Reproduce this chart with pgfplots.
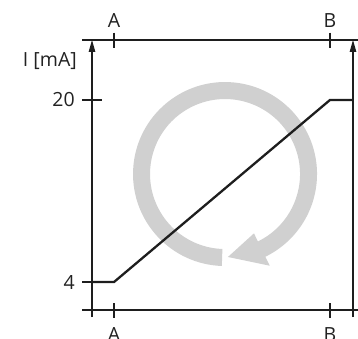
\documentclass[border=0pt]{standalone}
\usepackage{pgfplots}
\pgfplotsset{compat=1.18}
\usepackage{fontspec}
\setmainfont{Open Sans}
\usetikzlibrary{arrows.meta,calc}
\definecolor{ink}{HTML}{1E1E1E}
\definecolor{txt}{HTML}{222222}
\definecolor{ring}{HTML}{D0D0D0}
\begin{document}
\begin{tikzpicture}[font=\fontsize{19.5}{21}\selectfont]
\useasboundingbox (0,0) rectangle (358pt,338pt);
\begin{axis}[
    at={(92pt,28pt)}, anchor=south west,
    scale only axis, width=261pt, height=270pt,
    xmin=-0.1019, xmax=1.1065, ymin=1.54, ymax=25.27,
    axis line style={draw=none},
    xtick={0,1}, xticklabels={A,B}, xtick pos=both,
    ytick={4,20}, yticklabels={4,20}, ytick pos=left,
    tick align=center,
    xtick style={ink, line width=1.1pt, /pgfplots/major tick length=15pt},
    ytick style={ink, line width=1.1pt, /pgfplots/major tick length=20pt},
    xticklabel style={text=txt, yshift=-12pt},
    yticklabel style={text=txt, anchor=east, inner sep=0pt, xshift=-15pt},
    clip=false,
]
\fill[ring] ($(axis cs:0.514,13.49)+(268:92pt)$) arc[start angle=268, end angle=-64, radius=92pt]
    -- ($(axis cs:0.514,13.49)+(-64:102pt)$)
    -- ($(axis cs:0.514,13.49)+(-88:83pt)$)
    -- ($(axis cs:0.514,13.49)+(-64:66pt)$)
    -- ($(axis cs:0.514,13.49)+(-64:75pt)$)
    arc[start angle=-64, end angle=268, radius=75pt] -- cycle;
\addplot[ink, line width=2.3pt] coordinates {(-0.1019,4)(0,4)(1,20)(1.1065,20)};
\end{axis}
\draw[ink, line width=1.1pt] (82pt,298pt) -- (358pt,298pt);
\draw[ink, line width=1.1pt] (82pt,28pt) -- (358pt,28pt);
\draw[ink, line width=1.1pt, -{Triangle[length=12pt,width=6.5pt]}] (92pt,21pt) -- (92pt,298pt);
\draw[ink, line width=1.1pt, -{Triangle[length=12pt,width=6.5pt]}] (353pt,21pt) -- (353pt,298pt);
\node[txt, anchor=base] at (114pt,310pt) {A};
\node[txt, anchor=base] at (330pt,310pt) {B};
\node[txt, anchor=base east, inner sep=0pt] at (77pt,272pt) {I [mA]};
\end{tikzpicture}
\end{document}
